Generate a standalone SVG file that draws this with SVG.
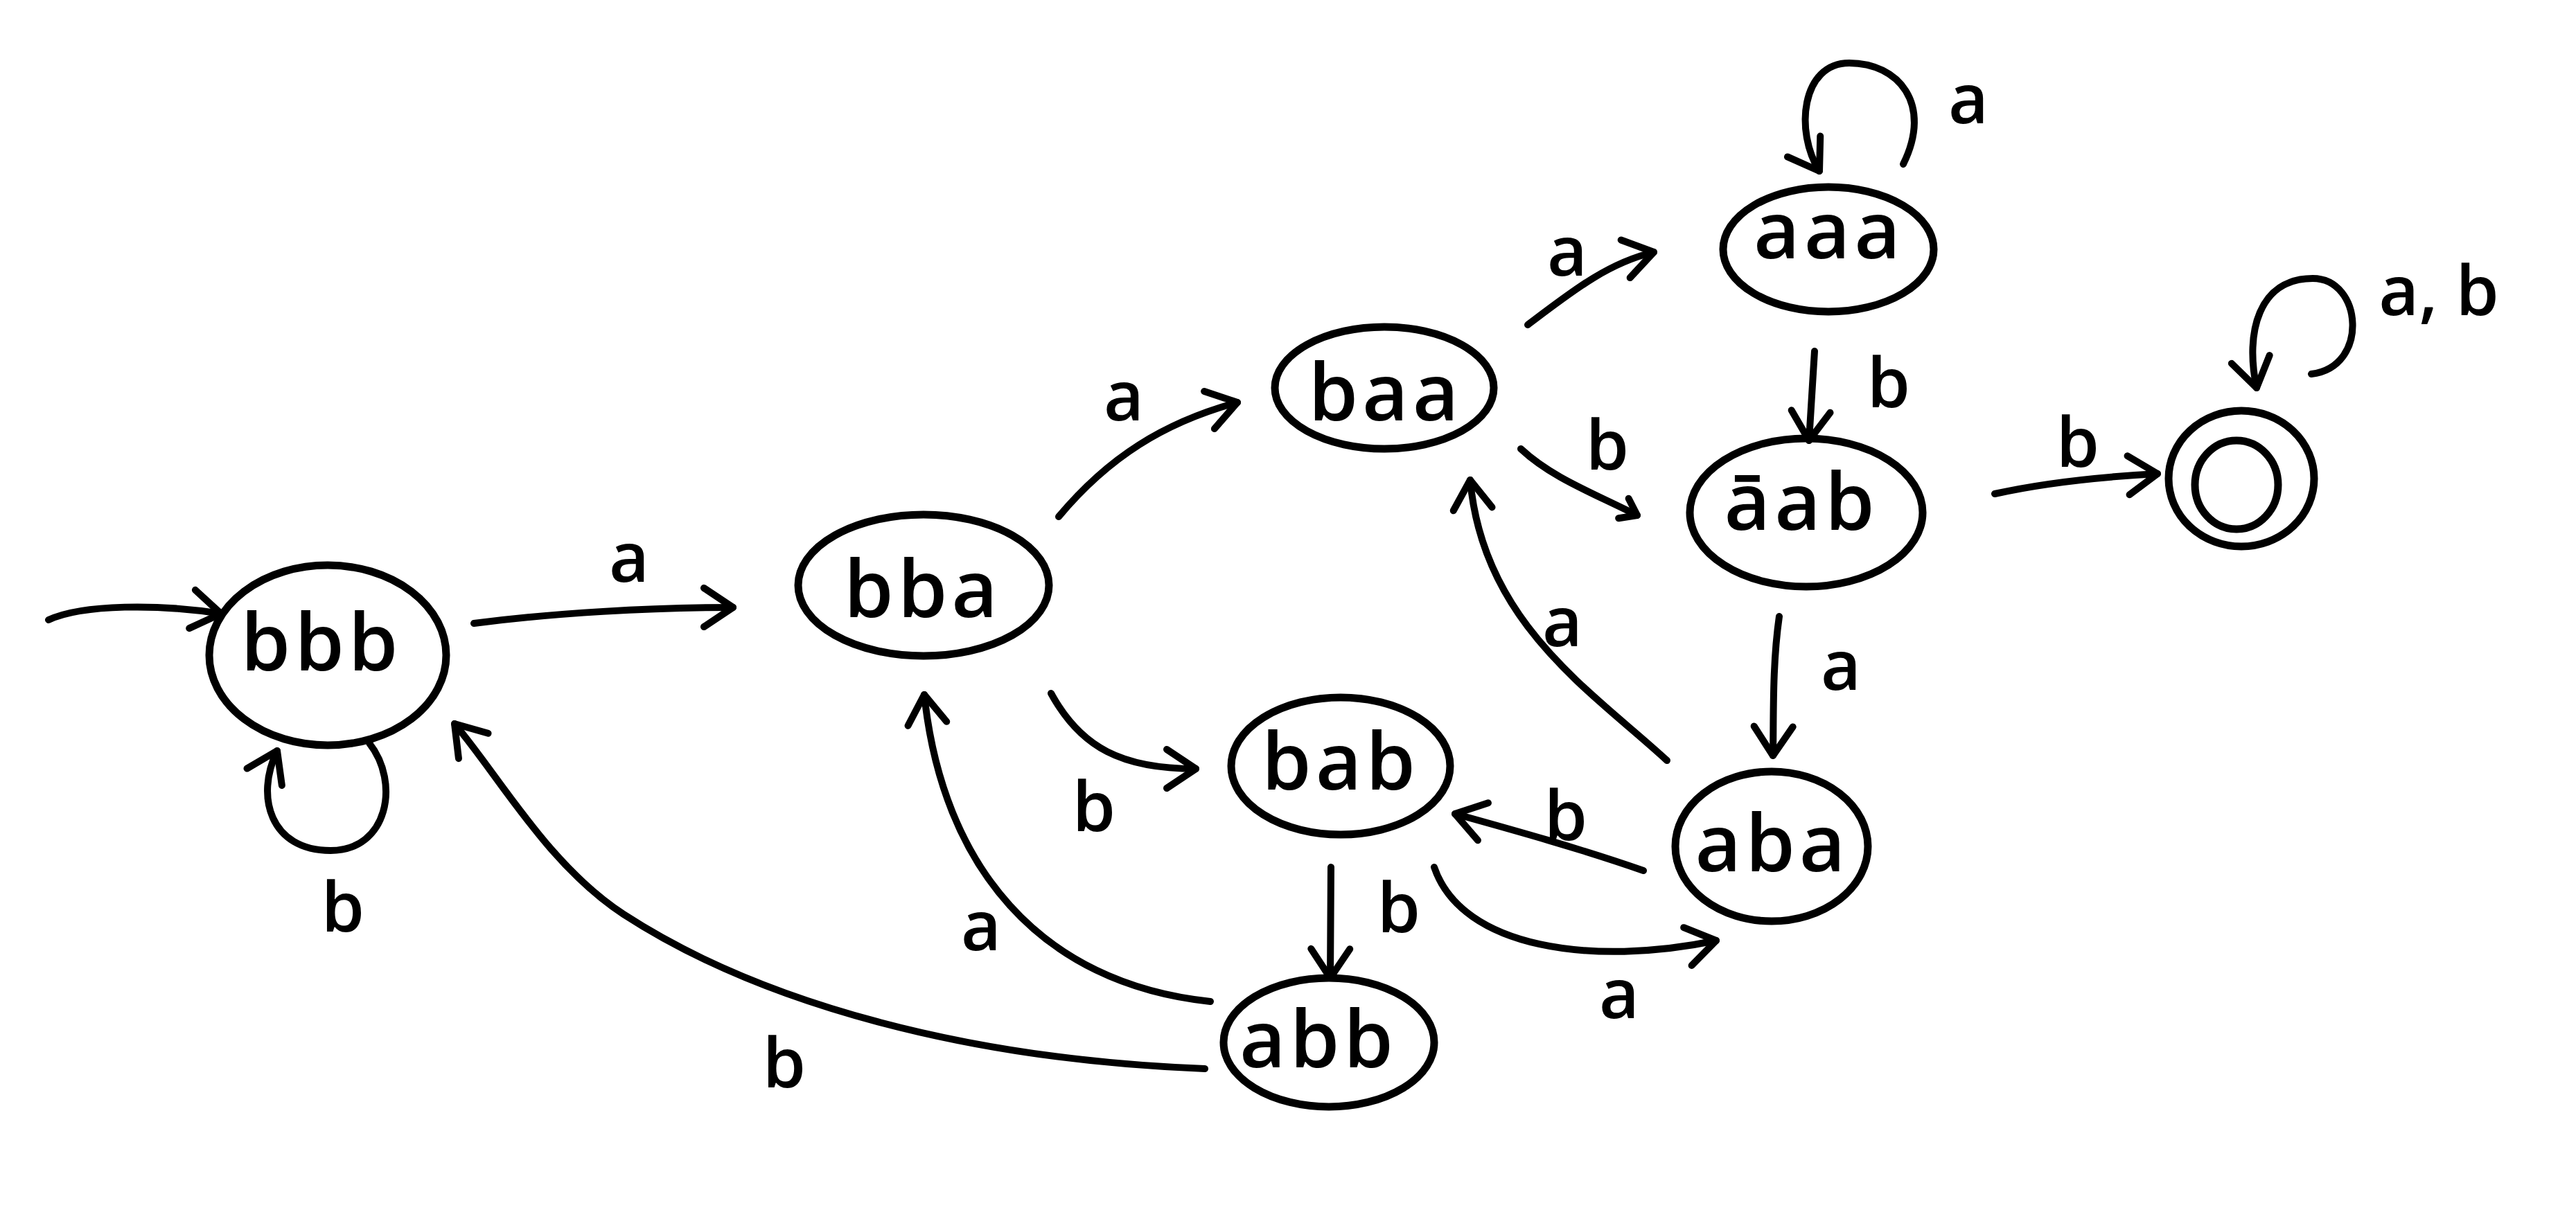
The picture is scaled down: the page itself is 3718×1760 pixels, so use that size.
<svg xmlns="http://www.w3.org/2000/svg" width="3718" height="1760" viewBox="0 0 3718 1760">
  <style>
    .state { fill: none; stroke: #000; stroke-width: 11; }
    .edge { fill: none; stroke: #000; stroke-width: 10; stroke-linecap: round; stroke-linejoin: round; marker-end: url(#arrow); }
    .edge.small { marker-end: url(#arrow-sm); }
    .name { font-family: "Open Sans", "Liberation Sans", sans-serif; font-weight: 600; font-size: 115px; fill: #000; text-anchor: middle; letter-spacing: 6px; }
    .lbl { font-family: "Open Sans", "Liberation Sans", sans-serif; font-weight: 600; font-size: 100px; fill: #000; text-anchor: middle; }
  </style>
  <defs>
    <marker id="arrow" markerUnits="userSpaceOnUse" markerWidth="120" markerHeight="120" viewBox="-60 -60 120 120" refX="0" refY="0" orient="auto" overflow="visible">
      <path d="M-42,-28 L0,0 L-42,28" fill="none" stroke="#000" stroke-width="10" stroke-linecap="round" stroke-linejoin="round"/>
    </marker>
    <marker id="arrow-sm" markerUnits="userSpaceOnUse" markerWidth="80" markerHeight="80" viewBox="-40 -40 80 80" refX="0" refY="0" orient="auto" overflow="visible">
      <path d="M-22,-16 L0,0 L-22,16" fill="none" stroke="#000" stroke-width="10" stroke-linecap="round" stroke-linejoin="round"/>
    </marker>
  </defs>
  <rect width="3718" height="1760" fill="#fff"/>

  <!-- transitions -->
  <g id="connectors">
    <path id="e-start" class="edge" d="M70,895 C120,872 230,872 319,886"/>
    <path id="e-bbb-bba" class="edge" d="M684,900 C800,885 940,877 1058,877"/>
    <path id="e-bbb-loop" class="edge" d="M533,1073 C578,1130 560,1228 477,1228 C390,1228 368,1150 400,1084"/>
    <path id="e-bba-baa" class="edge" d="M1528,746 C1600,660 1680,610 1786,581"/>
    <path id="e-bba-bab" class="edge" d="M1517,1001 C1560,1080 1620,1110 1726,1110"/>
    <path id="e-baa-aaa" class="edge" d="M2205,469 C2270,420 2320,380 2387,364"/>
    <path id="e-aaa-loop" class="edge" d="M2747,237 C2790,150 2740,91 2669,91 C2600,91 2590,190 2626,247"/>
    <path id="e-aaa-aab" class="edge" d="M2619,507 L2611,636"/>
    <path id="e-baa-aab" class="edge small" d="M2195,648 C2240,690 2300,712 2363,744"/>
    <path id="e-aab-final" class="edge" d="M2879,713 C2960,695 3040,688 3114,684"/>
    <path id="e-final-loop" class="edge" d="M3336,540 C3420,530 3410,402 3338,402 C3260,402 3240,480 3257,560"/>
    <path id="e-aab-aba" class="edge" d="M2568,890 C2558,960 2560,1030 2559,1091"/>
    <path id="e-aba-baa" class="edge" d="M2406,1098 C2300,1000 2140,900 2122,693"/>
    <path id="e-aba-bab" class="edge" d="M2372,1257 C2280,1225 2190,1200 2100,1175"/>
    <path id="e-bab-aba" class="edge" d="M2070,1252 C2110,1370 2300,1395 2477,1358"/>
    <path id="e-bab-abb" class="edge" d="M1921,1252 L1920,1412"/>
    <path id="e-abb-bba" class="edge" d="M1747,1446 C1500,1420 1360,1250 1334,1003"/>
    <path id="e-abb-bbb" class="edge" d="M1739,1543 C1400,1530 1100,1450 900,1320 C790,1248 720,1120 656,1045"/>
  </g>

  <!-- transition symbols -->
  <g id="edge-labels">
    <text class="lbl" x="908" y="840">a</text>
    <text class="lbl" x="495" y="1345">b</text>
    <text class="lbl" x="1622" y="607">a</text>
    <text class="lbl" x="1579" y="1200">b</text>
    <text class="lbl" x="2262" y="398">a</text>
    <text class="lbl" x="2841" y="178">a</text>
    <text class="lbl" x="2726" y="588">b</text>
    <text class="lbl" x="2320" y="678">b</text>
    <text class="lbl" x="2999" y="674">b</text>
    <text class="lbl" x="3520" y="455">a, b</text>
    <text class="lbl" x="2657" y="996">a</text>
    <text class="lbl" x="2255" y="933">a</text>
    <text class="lbl" x="2260" y="1213">b</text>
    <text class="lbl" x="2019" y="1346">b</text>
    <text class="lbl" x="2337" y="1470">a</text>
    <text class="lbl" x="1416" y="1372">a</text>
    <text class="lbl" x="1132" y="1570">b</text>
  </g>

  <!-- states -->
  <g id="node-bbb">
    <ellipse class="state" cx="473" cy="946" rx="171" ry="130"/>
    <text class="name" x="464" y="968">bbb</text>
  </g>
  <g id="node-bba">
    <ellipse class="state" cx="1333" cy="845" rx="181" ry="102"/>
    <text class="name" x="1332" y="891">bba</text>
  </g>
  <g id="node-baa">
    <ellipse class="state" cx="1998" cy="560" rx="158" ry="88"/>
    <text class="name" x="2000" y="607">baa</text>
  </g>
  <g id="node-aaa">
    <ellipse class="state" cx="2639" cy="360" rx="152" ry="90"/>
    <text class="name" x="2640" y="373">aaa</text>
  </g>
  <g id="node-aab">
    <ellipse class="state" cx="2607" cy="740" rx="168" ry="107"/>
    <text class="name" x="2600" y="765">āab</text>
  </g>
  <g id="node-final">
    <ellipse class="state" cx="3235" cy="691" rx="105" ry="98"/>
    <ellipse class="state" cx="3228" cy="700" rx="60" ry="64"/>
  </g>
  <g id="node-bab">
    <ellipse class="state" cx="1935" cy="1106" rx="158" ry="99"/>
    <text class="name" x="1935" y="1140">bab</text>
  </g>
  <g id="node-aba">
    <ellipse class="state" cx="2557" cy="1222" rx="139" ry="108"/>
    <text class="name" x="2558" y="1258">aba</text>
  </g>
  <g id="node-abb">
    <ellipse class="state" cx="1918" cy="1505" rx="152" ry="93"/>
    <text class="name" x="1903" y="1541">abb</text>
  </g>
</svg>
